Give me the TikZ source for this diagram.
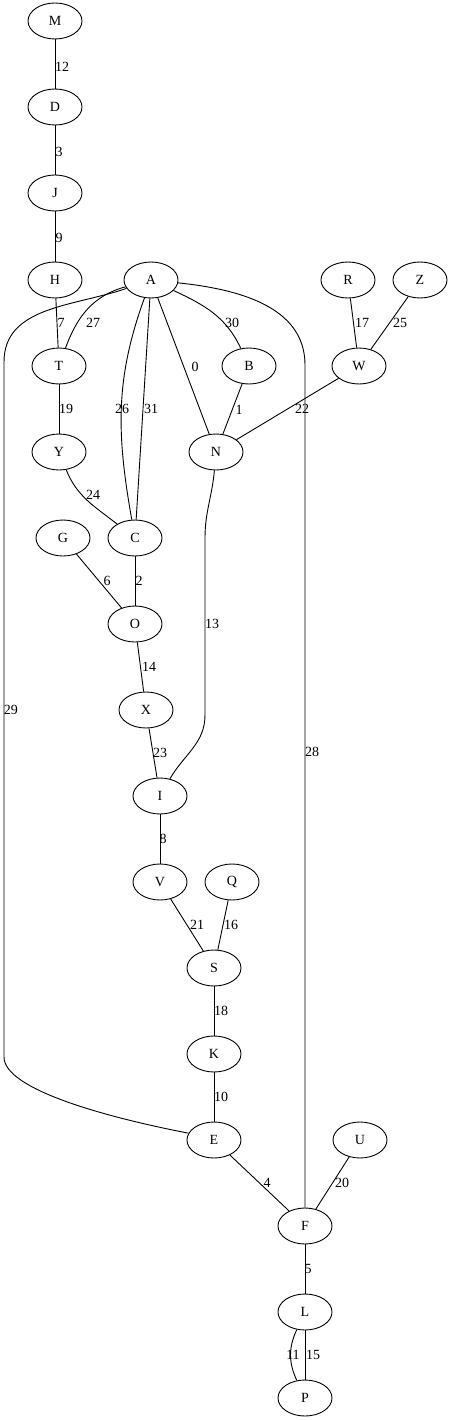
\documentclass[tikz,border=0pt]{standalone}
\usepackage{fontspec}
\setmainfont{Liberation Serif}
\usepackage{tikz}
\usetikzlibrary{shapes.geometric}

\tikzset{
  vert/.style={ellipse, draw, line width=0.9pt, minimum width=54pt, minimum height=36pt, inner sep=0pt, font=\fontsize{14}{16}\selectfont},
  lbl/.style={inner sep=0pt, font=\fontsize{14}{16}\selectfont},
  edge/.style={line width=0.9pt}
}

\begin{document}
\begin{tikzpicture}[x=1pt, y=-1pt]
\useasboundingbox (0,0) rectangle (452,1420);

\node[vert] (m) at (55,21) {M};
\node[vert] (d) at (55,107) {D};
\node[vert] (j) at (55,193) {J};
\node[vert] (h) at (55,280) {H};
\node[vert] (a) at (151,280) {A};
\node[vert] (r) at (348,280) {R};
\node[vert] (z) at (420,280) {Z};
\node[vert] (t) at (59,366) {T};
\node[vert] (b) at (249,366) {B};
\node[vert] (w) at (359,366) {W};
\node[vert] (y) at (59,452) {Y};
\node[vert] (n) at (216,452) {N};
\node[vert] (g) at (63,538) {G};
\node[vert] (c) at (135,538) {C};
\node[vert] (o) at (135,624) {O};
\node[vert] (x) at (146,710) {X};
\node[vert] (i) at (160,796) {I};
\node[vert] (v) at (160,882) {V};
\node[vert] (q) at (232,882) {Q};
\node[vert] (s) at (214,968) {S};
\node[vert] (k) at (214,1054) {K};
\node[vert] (e) at (214,1140) {E};
\node[vert] (u) at (360,1140) {U};
\node[vert] (f) at (305,1226) {F};
\node[vert] (l) at (305,1312) {L};
\node[vert] (p) at (305,1398) {P};

% bends of the long edges
\coordinate (c28) at (305,365);
\coordinate (c29a) at (4,362);
\coordinate (c29b) at (4,1057);
\coordinate (c13a) at (205,538);
\coordinate (c13b) at (205,715);

\draw[edge] (m)--(d);
\draw[edge] (d)--(j);
\draw[edge] (j)--(h);
\draw[edge] (h)--(t);
\draw[edge] (a) to[out=195,in=70] (t);
\draw[edge] (a) to[out=250,in=100] (c);
\draw[edge] (a)--(c);
\draw[edge] (a)--(n);
\draw[edge] (a) to[out=-25,in=115] (b);
\draw[edge] (a) to[out=-6,in=90] (c28) -- (f);
\draw[edge] (a) to[out=199,in=90] (c29a) -- (c29b) .. controls (4,1090) and (110,1118) .. (e.165);
\draw[edge] (r)--(w);
\draw[edge] (z)--(w);
\draw[edge] (b)--(n);
\draw[edge] (w)--(n);
\draw[edge] (t)--(y);
\draw[edge] (y) to[out=-68,in=142] (c);
\draw[edge] (g)--(o);
\draw[edge] (c)--(o);
\draw[edge] (n) to[out=-95,in=90] (c13a) -- (c13b) to[out=-90,in=60] (i);
\draw[edge] (o)--(x);
\draw[edge] (x)--(i);
\draw[edge] (i)--(v);
\draw[edge] (v)--(s);
\draw[edge] (q)--(s);
\draw[edge] (s)--(k);
\draw[edge] (k)--(e);
\draw[edge] (e)--(f);
\draw[edge] (u)--(f);
\draw[edge] (f)--(l);
\draw[edge] (l) to[bend right=25] (p);
\draw[edge] (l)--(p);

% weights
\node[lbl] (l12) at (62,67) {12};
\node[lbl] (l3) at (59,152) {3};
\node[lbl] (l9) at (59,238) {9};
\node[lbl] (l7) at (61,323) {7};
\node[lbl] (l27) at (93,323) {27};
\node[lbl] (l30) at (232,323) {30};
\node[lbl] (l0) at (195,367) {0};
\node[lbl] (l17) at (362,323) {17};
\node[lbl] (l25) at (400,323) {25};
\node[lbl] (l19) at (66,409) {19};
\node[lbl] (l26) at (122,409) {26};
\node[lbl] (l31) at (151,409) {31};
\node[lbl] (l1) at (239,410) {1};
\node[lbl] (l22) at (302,409) {22};
\node[lbl] (l24) at (93,495) {24};
\node[lbl] (l6) at (107,581) {6};
\node[lbl] (l2) at (139,581) {2};
\node[lbl] (l13) at (212,624) {13};
\node[lbl] (l14) at (149,667) {14};
\node[lbl] (l29) at (11,710) {29};
\node[lbl] (l23) at (160,753) {23};
\node[lbl] (l28) at (312,752) {28};
\node[lbl] (l8) at (163,839) {8};
\node[lbl] (l21) at (197,925) {21};
\node[lbl] (l16) at (231,925) {16};
\node[lbl] (l18) at (221,1011) {18};
\node[lbl] (l10) at (221,1097) {10};
\node[lbl] (l4) at (267,1183) {4};
\node[lbl] (l20) at (342,1183) {20};
\node[lbl] (l5) at (308,1269) {5};
\node[lbl] (l11) at (293,1355) {11};
\node[lbl] (l15) at (313,1355) {15};
\end{tikzpicture}
\end{document}
